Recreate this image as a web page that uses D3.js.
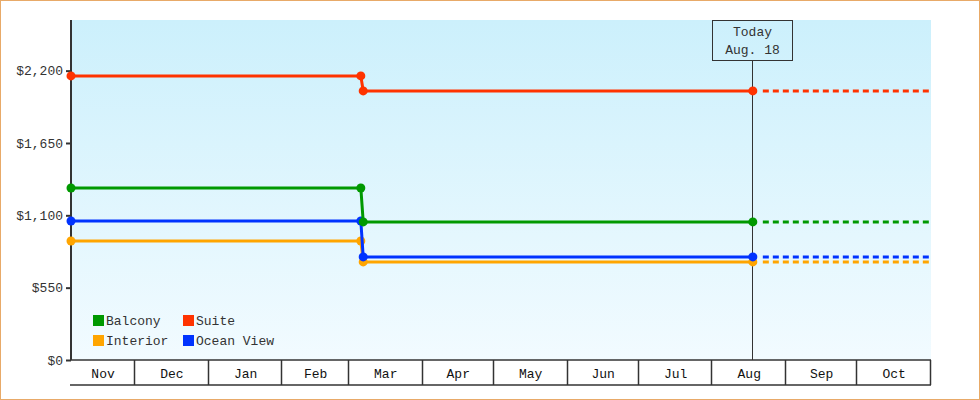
<!DOCTYPE html>
<html>
<head>
<meta charset="utf-8">
<script src="https://cdn.jsdelivr.net/npm/d3@7"></script>
<style>
  html, body { margin: 0; padding: 0; background: #fff; }
  svg { display: block; }
  text { font-family: "Liberation Mono", "DejaVu Sans Mono", monospace; font-size: 13px; fill: #333; }
</style>
</head>
<body>
<div id="chart"></div>
<script>
// Data
const seriesNames = ['Interior', 'Ocean View', 'Balcony', 'Suite'];
const seriesColors = ['#ffa500', '#0033ff', '#009900', '#ff3300'];
const pointDates = ['2014-11-04', '2015-03-06', '2015-03-07', '2015-08-18'];
const interior = [905, 905, 746, 746];
const oceanView = [1057, 1057, 784, 784];
const balcony = [1308, 1308, 1050, 1050];
const suite = [2160, 2160, 2046, 2046];
const startDate = '2014-11-04';
const endDate = '2015-11-01';
const todayDate = '2015-08-18';
const todayLabel = ['Today', 'Aug. 18'];
const monthStarts = ['2014-11-04', '2014-12-01', '2015-01-01', '2015-02-01', '2015-03-01', '2015-04-01',
  '2015-05-01', '2015-06-01', '2015-07-01', '2015-08-01', '2015-09-01', '2015-10-01', '2015-11-01'];
const monthLabels = ['Nov', 'Dec', 'Jan', 'Feb', 'Mar', 'Apr', 'May', 'Jun', 'Jul', 'Aug', 'Sep', 'Oct'];
const yTicks = [0, 550, 1100, 1650, 2200];
const yMax = 2585;
const legendOrder = ['Balcony', 'Suite', 'Interior', 'Ocean View'];

const values = [interior, oceanView, balcony, suite];

const width = 980, height = 400;
const margin = { top: 20, right: 49, bottom: 40, left: 71 };
const parse = d3.timeParse('%Y-%m-%d');

const svg = d3.select('#chart').append('svg')
  .attr('width', width)
  .attr('height', height);

// outer border
svg.append('rect')
  .attr('x', 0.5).attr('y', 0.5)
  .attr('width', width - 1).attr('height', height - 1)
  .attr('fill', '#fff')
  .attr('stroke', '#e8aa68');

const x = d3.scaleTime()
  .domain([parse(startDate), parse(endDate)])
  .range([margin.left, width - margin.right]);

const y = d3.scaleLinear()
  .domain([0, yMax])
  .range([height - margin.bottom, margin.top]);

// plot background gradient
const defs = svg.append('defs');
const grad = defs.append('linearGradient')
  .attr('id', 'bg').attr('x1', 0).attr('y1', 0).attr('x2', 0).attr('y2', 1);
grad.append('stop').attr('offset', '0%').attr('stop-color', '#ccf0fc');
grad.append('stop').attr('offset', '100%').attr('stop-color', '#f2fbff');

svg.append('rect')
  .attr('x', x.range()[0])
  .attr('y', y.range()[1])
  .attr('width', x.range()[1] - x.range()[0])
  .attr('height', y.range()[0] - y.range()[1])
  .attr('fill', 'url(#bg)');

// month cells under the plot
const cellTop = y(0), cellBottom = y(0) + 25;
const months = monthLabels.map((m, i) => ({
  label: m,
  x0: x(parse(monthStarts[i])),
  x1: x(parse(monthStarts[i + 1]))
}));

const cells = svg.append('g');
cells.append('line')
  .attr('x1', x.range()[0] - 1).attr('x2', x.range()[1])
  .attr('y1', cellTop).attr('y2', cellTop)
  .attr('stroke', '#333').attr('stroke-width', 1.5);
cells.append('line')
  .attr('x1', x.range()[0] - 1).attr('x2', x.range()[1])
  .attr('y1', cellBottom).attr('y2', cellBottom)
  .attr('stroke', '#333').attr('stroke-width', 1.5);
cells.selectAll('line.sep')
  .data(months)
  .join('line')
  .attr('class', 'sep')
  .attr('x1', d => Math.round(d.x1) - 0.5).attr('x2', d => Math.round(d.x1) - 0.5)
  .attr('y1', cellTop).attr('y2', cellBottom)
  .attr('stroke', '#333').attr('stroke-width', 1.5);
cells.selectAll('text')
  .data(months)
  .join('text')
  .attr('x', d => (d.x0 + d.x1) / 2)
  .attr('y', cellTop + 18)
  .attr('text-anchor', 'middle')
  .style('fill', '#111')
  .text(d => d.label);

// y axis
const yAxis = svg.append('g')
  .attr('transform', `translate(${x.range()[0]},0)`)
  .call(d3.axisLeft(y).tickValues(yTicks).tickSize(5).tickPadding(3)
    .tickFormat(d => '$' + d3.format(',')(d)));
yAxis.select('.domain').remove();
yAxis.selectAll('.tick line').attr('stroke', '#333').attr('stroke-width', 2);
yAxis.selectAll('.tick text')
  .style('font-family', '"Liberation Mono", "DejaVu Sans Mono", monospace')
  .style('font-size', '13px')
  .attr('fill', '#333');
svg.append('line')
  .attr('x1', x.range()[0]).attr('x2', x.range()[0])
  .attr('y1', y.range()[1]).attr('y2', y.range()[0])
  .attr('stroke', '#333').attr('stroke-width', 2);

// today marker
const tx = Math.round(x(parse(todayDate))) - 0.5;
const boxW = 80, boxH = 40;
svg.append('line')
  .attr('x1', tx).attr('x2', tx)
  .attr('y1', y.range()[1] + boxH).attr('y2', y(0))
  .attr('stroke', '#333').attr('stroke-width', 1);
svg.append('rect')
  .attr('x', tx - boxW / 2).attr('y', y.range()[1] + 0.5)
  .attr('width', boxW).attr('height', boxH)
  .attr('fill', 'none')
  .attr('stroke', '#333').attr('stroke-width', 1);
svg.append('g').selectAll('text')
  .data(todayLabel)
  .join('text')
  .attr('x', tx)
  .attr('y', (d, i) => y.range()[1] + 16 + i * 18)
  .attr('text-anchor', 'middle')
  .text(d => d);

// series
const line = d3.line()
  .x(d => x(d.date))
  .y(d => y(d.value));

const lines = svg.append('g');
seriesNames.forEach((name, si) => {
  const pts = pointDates.map((d, i) => ({ date: parse(d), value: values[si][i] }));
  const last = pts[pts.length - 1];
  const g = lines.append('g');

  g.append('path')
    .datum(pts)
    .attr('d', line)
    .attr('fill', 'none')
    .attr('stroke', seriesColors[si])
    .attr('stroke-width', 3);

  // projection after today
  g.append('line')
    .attr('x1', x(last.date) + 10).attr('x2', x(parse(endDate)))
    .attr('y1', y(last.value)).attr('y2', y(last.value))
    .attr('stroke', seriesColors[si])
    .attr('stroke-width', 3)
    .attr('stroke-dasharray', '6,4');

  g.selectAll('circle')
    .data(pts)
    .join('circle')
    .attr('cx', d => x(d.date))
    .attr('cy', d => y(d.value))
    .attr('r', 4.5)
    .attr('fill', seriesColors[si]);
});

// legend
const legend = svg.append('g')
  .attr('transform', `translate(${x.range()[0] + 22},${y(0) - 45})`);
const item = legend.selectAll('g')
  .data(legendOrder)
  .join('g')
  .attr('transform', (d, i) => `translate(${(i % 2) * 90},${Math.floor(i / 2) * 20})`);
item.append('rect')
  .attr('width', 11).attr('height', 11)
  .attr('fill', d => seriesColors[seriesNames.indexOf(d)]);
item.append('text')
  .attr('x', 13).attr('y', 10)
  .text(d => d);
</script>
</body>
</html>
